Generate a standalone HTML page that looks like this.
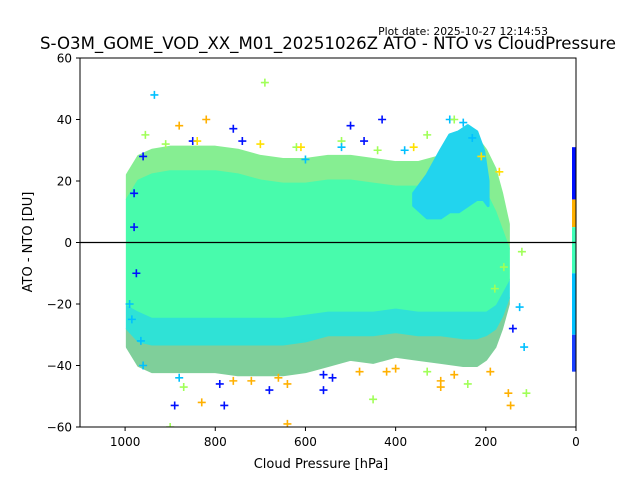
<!DOCTYPE html>
<html><head><meta charset="utf-8"><style>
html,body{margin:0;padding:0;background:#fff;}
svg{display:block;font-family:"DejaVu Sans","Liberation Sans",sans-serif;}
</style></head><body>
<svg id="chart" width="640" height="480" viewBox="0 0 640 480">
<text x="548" y="35" font-size="10.8" text-anchor="end">Plot date: 2025-10-27 12:14:53</text>
<text x="328" y="49" font-size="16.6" text-anchor="middle">S-O3M_GOME_VOD_XX_M01_20251026Z ATO - NTO vs CloudPressure</text>
<defs><clipPath id="pc"><rect x="80" y="58" width="496" height="369"/></clipPath></defs>
<g id="plot" clip-path="url(#pc)"></g>
<rect x="80" y="58" width="496" height="369" fill="none" stroke="#000" stroke-width="1"/>
<g id="axes"></g>
<text x="321" y="468" font-size="13" text-anchor="middle">Cloud Pressure [hPa]</text>
<text transform="translate(32,242) rotate(-90)" font-size="13" text-anchor="middle">ATO - NTO [DU]</text>
</svg>
<script>
const pressures = [995,970,940,900,850,800,750,700,650,600,550,500,450,400,350,300,250,220,200,180,165,150];
const outerTop   = [22,28,30,31,31,31,30,28,27,27,28,28,27,26,26,28,32,34,30,24,16,6];
const coreTop    = [14,20,22,23,23,23,22,20,19,19,20,20,19,18,18,18,20,20,16,10,4,-2];
const coreBot    = [-20,-22,-24,-24,-24,-24,-24,-24,-24,-23,-22,-22,-22,-21,-22,-22,-22,-22,-22,-20,-16,-12];
const midBot     = [-28,-32,-33,-33,-33,-33,-33,-33,-33,-32,-30,-30,-30,-29,-30,-30,-31,-31,-30,-28,-24,-18];
const outerBot   = [-34,-40,-42,-42,-42,-42,-43,-43,-43,-42,-40,-38,-39,-37,-38,-39,-40,-40,-38,-34,-28,-20];
const cyanP      = [360,330,300,280,260,240,220,205,195];
const cyanTop    = [16,22,30,35,36,38,36,30,20];
const cyanBot    = [12,8,8,10,10,12,14,14,12];
const stripLo    = [14,5,-10,-30,-42];
const stripHi    = [31,14,5,-10,-30];
const stripCol   = ["#0010ff","#ffb000","#40ffb8","#00c0ff","#1a40ff"];
const outP = [935,690,430,500,280,270,820,250,330,960,980,985,960,900,890,870,830,780,640,680,640,560,450,300,240,190,150,145,110,115,125,120,140,160,790,420,520,470,600,760,300,210,170,180,230,990,955,880,720,540,850,700,620,380,980,975,965,880,760,660,560,480,400,330,270,910,840,740,610,520,440,360];
const outV = [48,52,40,38,40,40,40,39,35,28,16,-25,-40,-60,-53,-47,-52,-53,-59,-48,-46,-48,-51,-47,-46,-42,-49,-53,-49,-34,-21,-3,-28,-8,-46,-42,33,33,27,37,-45,28,23,-15,34,-20,35,38,-45,-44,33,32,31,30,5,-10,-32,-44,-45,-44,-43,-42,-41,-42,-43,32,33,33,31,31,30,31];
const outC = ["#00c0ff","#a0ff58","#0010ff","#0010ff","#00c0ff","#a0ff58","#ffb000","#00c0ff","#a0ff58","#0010ff","#0010ff","#00c0ff","#00c0ff","#a0ff58","#0010ff","#a0ff58","#ffb000","#0010ff","#ffb000","#0010ff","#ffb000","#0010ff","#a0ff58","#ffb000","#a0ff58","#ffb000","#ffb000","#ffb000","#a0ff58","#00c0ff","#00c0ff","#a0ff58","#0010ff","#a0ff58","#0010ff","#ffb000","#a0ff58","#0010ff","#00c0ff","#0010ff","#ffb000","#ffe000","#ffe000","#a0ff58","#00c0ff","#00c0ff","#a0ff58","#ffb000","#ffb000","#0010ff","#0010ff","#ffe000","#a0ff58","#00c0ff","#0010ff","#0010ff","#00c0ff","#00c0ff","#ffb000","#ffb000","#0010ff","#ffb000","#ffb000","#a0ff58","#ffb000","#a0ff58","#ffe000","#0010ff","#ffe000","#00c0ff","#a0ff58","#ffe000"];
const xTicks = [1000,800,600,400,200,0];
const yTicks = [60,40,20,0,-20,-40,-60];

const NS="http://www.w3.org/2000/svg";
const X = p => 576 - p*(496/1100);
const Y = v => 242.5 - v*(369/120);
const plot = document.getElementById('plot'), axes = document.getElementById('axes');
function mk(tag, at, parent){const e=document.createElementNS(NS,tag);for(const k in at)e.setAttribute(k,at[k]);parent.appendChild(e);return e;}
function band(ps, top, bot, fill, name){
  let pts=ps.map((p,i)=>X(p)+","+Y(top[i]));
  pts=pts.concat(ps.map((p,i)=>X(p)+","+Y(bot[i])).reverse());
  const e=mk('polygon',{points:pts.join(' '),fill:fill,stroke:fill,'stroke-width':3,'stroke-linejoin':'round'},plot);
  
  
}
band(pressures, outerTop, coreTop, "#86ee92", "outer-band-upper");
band(pressures, midBot, outerBot, "#7fcf9a", "outer-band-lower");
band(pressures, coreBot, midBot, "#2fe2d6", "mid-band-lower");
band(pressures, coreTop, coreBot, "#48fbac", "core-band");
band(cyanP, cyanTop, cyanBot, "#22d4ee", "cyan-cluster");
for(let i=0;i<stripLo.length;i++){
  const e=mk('rect',{x:572,y:Y(stripHi[i]),width:4,height:Y(stripLo[i])-Y(stripHi[i]),fill:stripCol[i]},plot);
  
  
}
for(let i=0;i<outP.length;i++){
  const x=X(outP[i]), y=Y(outV[i]);
  const e=mk('path',{d:`M${x-4},${y}H${x+4}M${x},${y-4}V${y+4}`,stroke:outC[i],'stroke-width':1.6,fill:'none'},plot);
  
  
}
const zl=mk('line',{x1:80,x2:576,y1:Y(0),y2:Y(0),stroke:'#000','stroke-width':1.2},plot);


xTicks.forEach(t=>{
  const x=X(t);
  mk('line',{x1:x,x2:x,y1:427,y2:431,stroke:'#000'},axes);
  const tx=mk('text',{x:x,y:446,'font-size':12,'text-anchor':'middle'},axes);
  tx.textContent=t;
  
  
});
yTicks.forEach(t=>{
  const y=Y(t);
  mk('line',{x1:76,x2:80,y1:y,y2:y,stroke:'#000'},axes);
  const tx=mk('text',{x:72,y:y+4.5,'font-size':12,'text-anchor':'end'},axes);
  tx.textContent=(t<0?'\u2212'+(-t):t);
  
  
});
</script>
</body></html>
